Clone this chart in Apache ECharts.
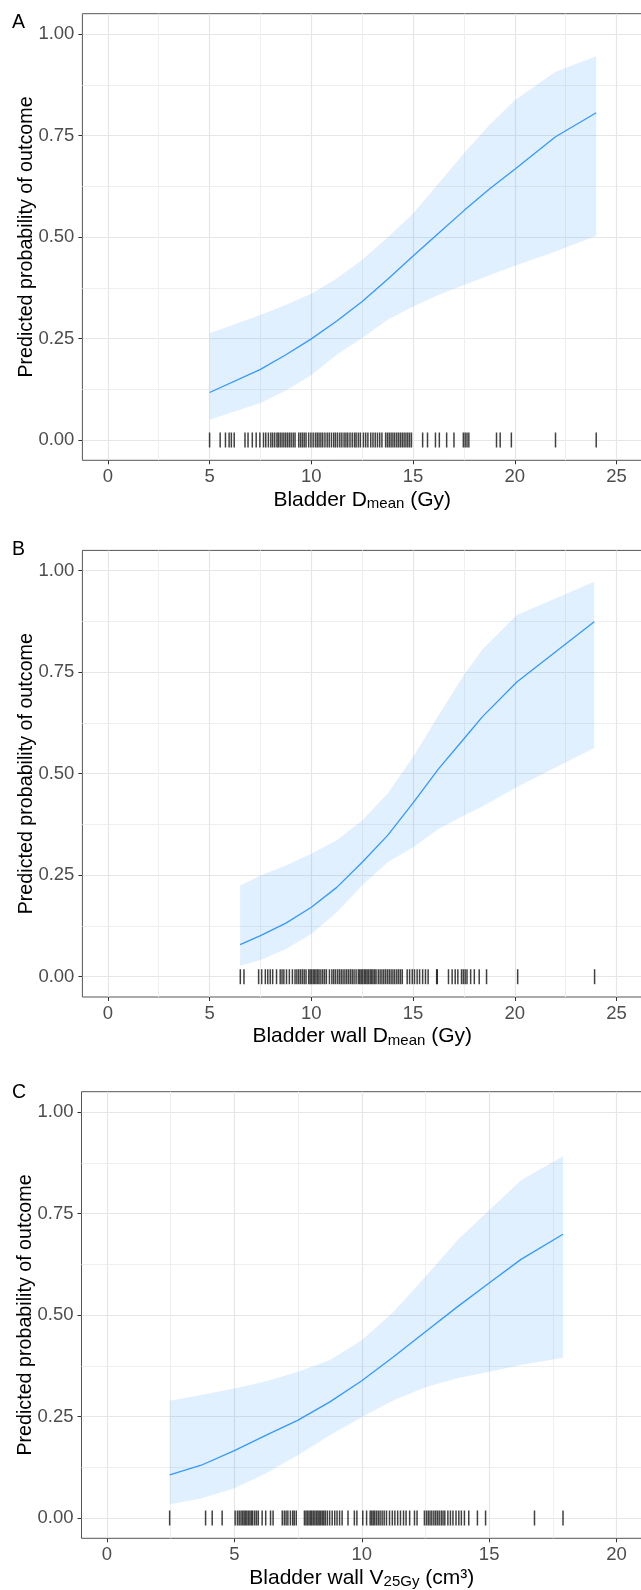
<!DOCTYPE html>
<html>
<head>
<meta charset="utf-8">
<style>
html, body { margin: 0; padding: 0; background: #fff; }
#main { width: 641px; height: 1590px; }
</style>
<script src="https://cdn.jsdelivr.net/npm/echarts@6/dist/echarts.min.js"></script>
</head>
<body>
<div id="main"></div>
<script>
// Panel A - bladder Dmean
var xA = [5, 7.5, 8.75, 10, 11.25, 12.5, 13.75, 15, 16.25, 17.5, 18.75, 20, 22, 24];
var fitA = [0.117, 0.174, 0.21, 0.249, 0.293, 0.341, 0.396, 0.453, 0.509, 0.565, 0.618, 0.667, 0.747, 0.806];
var uppA = [0.263, 0.308, 0.333, 0.360, 0.398, 0.444, 0.499, 0.558, 0.632, 0.706, 0.776, 0.837, 0.907, 0.945];
var lowA = [0.050, 0.091, 0.122, 0.160, 0.210, 0.251, 0.296, 0.329, 0.357, 0.382, 0.406, 0.429, 0.464, 0.503];
var rugA = [5.0, 5.52, 5.78, 5.96, 6.07, 6.21, 6.74, 6.89, 7.1, 7.29, 7.47, 7.65, 7.76, 7.89, 8.01, 8.1, 8.2,
    8.31, 8.38, 8.47, 8.56, 8.65, 8.74, 8.83, 8.92, 9.01, 9.11, 9.2, 9.38, 9.47, 9.56, 9.65, 9.74, 9.87, 9.98,
    10.09, 10.2, 10.29, 10.38, 10.47, 10.56, 10.67, 10.78, 10.88, 10.99, 11.1, 11.19, 11.29, 11.4, 11.5, 11.61,
    11.7, 11.79, 11.9, 12.01, 12.12, 12.2, 12.31, 12.41, 12.56, 12.67, 12.78, 12.92, 13.03, 13.14, 13.25, 13.36,
    13.47, 13.65, 13.74, 13.83, 13.92, 14.01, 14.1, 14.2, 14.29, 14.38, 14.47, 14.56, 14.65, 14.74, 14.83, 14.92,
    15.47, 15.71, 16.1, 16.29, 16.65, 17.01, 17.47, 17.56, 17.65, 17.74, 19.1, 19.28, 19.83, 22.0, 24.0];

// Panel B - bladder wall Dmean
var xB = [6.5, 7.5, 8.75, 10, 11.25, 12.5, 13.75, 15, 16.25, 17.5, 18.4, 20.1, 23.9];
var fitB = [0.079, 0.101, 0.132, 0.171, 0.220, 0.282, 0.348, 0.428, 0.512, 0.586, 0.640, 0.726, 0.874];
var uppB = [0.224, 0.249, 0.274, 0.303, 0.336, 0.385, 0.451, 0.541, 0.644, 0.743, 0.806, 0.891, 0.973];
var lowB = [0.027, 0.041, 0.068, 0.105, 0.159, 0.225, 0.282, 0.319, 0.364, 0.397, 0.419, 0.467, 0.563];
var rugB = [6.51, 6.69, 7.41, 7.56, 7.74, 7.86, 7.98, 8.1, 8.29, 8.47, 8.56, 8.65, 8.78, 8.92, 9.07, 9.2, 9.29,
    9.38, 9.47, 9.56, 9.65, 9.74, 9.87, 9.94, 10.01, 10.09, 10.16, 10.23, 10.31, 10.38, 10.47, 10.56, 10.65,
    10.74, 10.89, 11.01, 11.1, 11.19, 11.29, 11.38, 11.47, 11.56, 11.65, 11.74, 11.83, 11.92, 12.01, 12.1, 12.2,
    12.31, 12.38, 12.45, 12.52, 12.6, 12.67, 12.74, 12.81, 12.89, 12.96, 13.03, 13.11, 13.18, 13.29, 13.38,
    13.47, 13.56, 13.65, 13.74, 13.83, 13.92, 14.01, 14.1, 14.2, 14.29, 14.38, 14.47, 14.71, 14.83, 14.96,
    15.07, 15.2, 15.32, 15.47, 15.61, 15.74, 16.16, 16.19, 16.74, 16.92, 17.07, 17.2, 17.38, 17.47, 17.56,
    17.65, 17.83, 18.01, 18.25, 18.61, 20.14, 23.92];

// Panel C - bladder wall V25Gy
var xC = [2.46, 3.7, 5, 6.25, 7.5, 8.75, 10, 11.25, 12.5, 13.75, 15, 16.25, 17.9];
var fitC = [0.106, 0.130, 0.166, 0.204, 0.241, 0.286, 0.338, 0.397, 0.459, 0.520, 0.579, 0.637, 0.699];
var uppC = [0.289, 0.303, 0.319, 0.337, 0.360, 0.389, 0.438, 0.508, 0.594, 0.684, 0.758, 0.832, 0.891];
var lowC = [0.034, 0.048, 0.073, 0.110, 0.155, 0.204, 0.249, 0.290, 0.322, 0.344, 0.360, 0.377, 0.395];
var rugC = [2.46, 3.87, 4.13, 4.52, 5.03, 5.12, 5.19, 5.26, 5.32, 5.38, 5.43, 5.49, 5.55, 5.61, 5.67, 5.72,
    5.8, 5.87, 5.94, 6.09, 6.23, 6.42, 6.52, 6.88, 6.96, 7.03, 7.1, 7.2, 7.29, 7.35, 7.43, 7.75, 7.81, 7.87,
    7.93, 7.99, 8.04, 8.1, 8.16, 8.22, 8.28, 8.33, 8.39, 8.45, 8.51, 8.57, 8.65, 8.74, 8.84, 8.94, 9.03, 9.13,
    9.23, 9.46, 9.71, 9.81, 10.04, 10.19, 10.33, 10.39, 10.45, 10.51, 10.58, 10.65, 10.72, 10.8, 10.88, 10.97,
    11.09, 11.2, 11.3, 11.41, 11.52, 11.64, 11.74, 11.88, 12.07, 12.17, 12.46, 12.54, 12.61, 12.68, 12.75,
    12.83, 12.9, 12.97, 13.04, 13.12, 13.19, 13.26, 13.38, 13.48, 13.58, 13.7, 13.81, 13.91, 14.03, 14.2,
    14.54, 14.86, 16.78, 17.9];

// axis ticks
var xMajorAB = [0, 5, 10, 15, 20, 25];
var xMinorAB = [2.5, 7.5, 12.5, 17.5, 22.5];
var xMajorC = [0, 5, 10, 15, 20];
var xMinorC = [2.5, 7.5, 12.5, 17.5];
var yMajor = [0, 0.25, 0.5, 0.75, 1];
var yMinor = [0.125, 0.375, 0.625, 0.875];

var FONT = '"Liberation Sans", Arial, sans-serif';
var LINE_COL = '#3399ff';
var BAND_COL = 'rgba(51,153,255,0.15)';

var dom = document.getElementById('main');
var myChart = echarts.init(dom, null, { renderer: 'canvas' });

function zip(xs, ys) {
    return xs.map(function (x, i) { return [x, ys[i]]; });
}

var subRich = {
    m: { fontSize: 21, fontFamily: FONT, color: '#000', lineHeight: 22, verticalAlign: 'top' },
    s: { fontSize: 15, fontFamily: FONT, color: '#000', lineHeight: 15, verticalAlign: 'bottom', padding: [11, 0, 0, 0] }
};

var grids = [
    { left: 82.4, top: 13.7, width: 559.6, height: 446.6 },
    { left: 82.4, top: 550.4, width: 559.6, height: 446.6 },
    { left: 81.5, top: 1091.7, width: 560.5, height: 446.6 }
];
grids.forEach(function (g) {
    g.show = true;
    g.borderColor = '#555';
    g.borderWidth = 1;
    g.backgroundColor = '#fff';
    g.outerBoundsMode = 'none';
    g.containLabel = false;
});

var xNames = [
    '{m|Bladder D}{s|mean}{m| (Gy)}',
    '{m|Bladder wall D}{s|mean}{m| (Gy)}',
    '{m|Bladder wall V}{s|25Gy}{m| (cm³)}'
];
var xRanges = [[-1.25, 26.25], [-1.25, 26.25], [-1, 21]];
var xMajors = [xMajorAB, xMajorAB, xMajorC];
var xMinors = [xMinorAB, xMinorAB, xMinorC];

var xAxes = [];
var yAxes = [];
for (var i = 0; i < 3; i++) {
    xAxes.push({
        gridIndex: i, type: 'value', position: 'bottom',
        min: xRanges[i][0], max: xRanges[i][1],
        axisLine: { show: false, onZero: false },
        axisTick: { show: true, length: 4, customValues: xMajors[i], lineStyle: { color: '#333' } },
        axisLabel: { customValues: xMajors[i], color: '#4d4d4d', fontSize: 18.5, fontFamily: FONT, margin: 7 },
        splitLine: { show: true, lineStyle: { color: '#e6e6e6', width: 1.2 } },
        name: xNames[i], nameLocation: 'middle', nameGap: 29, nameMoveOverlap: false,
        nameTextStyle: { rich: subRich }
    });
    yAxes.push({
        gridIndex: i, type: 'value', position: 'left',
        min: -0.05, max: 1.05,
        axisLine: { show: false, onZero: false },
        axisTick: { show: true, length: 4, customValues: yMajor, lineStyle: { color: '#333' } },
        axisLabel: {
            customValues: yMajor, color: '#4d4d4d', fontSize: 18.5, fontFamily: FONT, margin: 8,
            formatter: function (v) { return v.toFixed(2); }
        },
        splitLine: { show: true, lineStyle: { color: '#e6e6e6', width: 1.2 } },
        name: 'Predicted probability of outcome', nameLocation: 'middle', nameGap: 46, nameMoveOverlap: false,
        nameTextStyle: { fontSize: 19.7, fontFamily: FONT, color: '#000' }
    });
}
// minor grid lines
for (var j = 0; j < 3; j++) {
    xAxes.push({
        gridIndex: j, type: 'value', position: 'top',
        min: xRanges[j][0], max: xRanges[j][1],
        axisLine: { show: false, onZero: false },
        axisTick: { show: false, customValues: xMinors[j] },
        axisLabel: { show: false },
        splitLine: { show: true, lineStyle: { color: '#efefef', width: 1 } }
    });
    yAxes.push({
        gridIndex: j, type: 'value', position: 'right',
        min: -0.05, max: 1.05,
        axisLine: { show: false, onZero: false },
        axisTick: { show: false, customValues: yMinor },
        axisLabel: { show: false },
        splitLine: { show: true, lineStyle: { color: '#efefef', width: 1 } }
    });
}

var panels = [
    { x: xA, fit: fitA, upp: uppA, low: lowA, rug: rugA },
    { x: xB, fit: fitB, upp: uppB, low: lowB, rug: rugB },
    { x: xC, fit: fitC, upp: uppC, low: lowC, rug: rugC }
];

var series = [];
panels.forEach(function (p, k) {
    // confidence band as one polygon: upper edge, then lower edge back
    series.push({
        type: 'custom', xAxisIndex: k, yAxisIndex: k, silent: true,
        data: p.x.map(function (x, i) { return [x, p.low[i], p.upp[i]]; }),
        encode: { x: 0, y: [1, 2] },
        renderItem: function (params, api) {
            if (params.dataIndex !== 0) return;
            var pts = [];
            for (var i = 0; i < p.x.length; i++) pts.push(api.coord([p.x[i], p.upp[i]]));
            for (var r = p.x.length - 1; r >= 0; r--) pts.push(api.coord([p.x[r], p.low[r]]));
            return { type: 'polygon', shape: { points: pts }, style: { fill: BAND_COL } };
        }
    });
    series.push({
        type: 'line', xAxisIndex: k, yAxisIndex: k,
        data: zip(p.x, p.fit), symbol: 'none', silent: true,
        lineStyle: { color: LINE_COL, width: 1.3 }
    });
    series.push({
        type: 'scatter', xAxisIndex: k, yAxisIndex: k,
        data: p.rug.map(function (v) { return [v, 0]; }),
        symbol: 'rect', symbolSize: [1.5, 15], silent: true,
        itemStyle: { color: '#111' }
    });
});

var option = {
    animation: false,
    backgroundColor: '#fff',
    title: [
        { text: 'A', left: 12, top: 13, padding: 0, textStyle: { fontSize: 19.5, fontWeight: 'normal', fontFamily: FONT, color: '#000' } },
        { text: 'B', left: 12, top: 540, padding: 0, textStyle: { fontSize: 19.5, fontWeight: 'normal', fontFamily: FONT, color: '#000' } },
        { text: 'C', left: 12, top: 1083, padding: 0, textStyle: { fontSize: 19.5, fontWeight: 'normal', fontFamily: FONT, color: '#000' } }
    ],
    grid: grids,
    xAxis: xAxes,
    yAxis: yAxes,
    series: series
};

if (option && typeof option === 'object') {
    myChart.setOption(option);
}
</script>
</body>
</html>
